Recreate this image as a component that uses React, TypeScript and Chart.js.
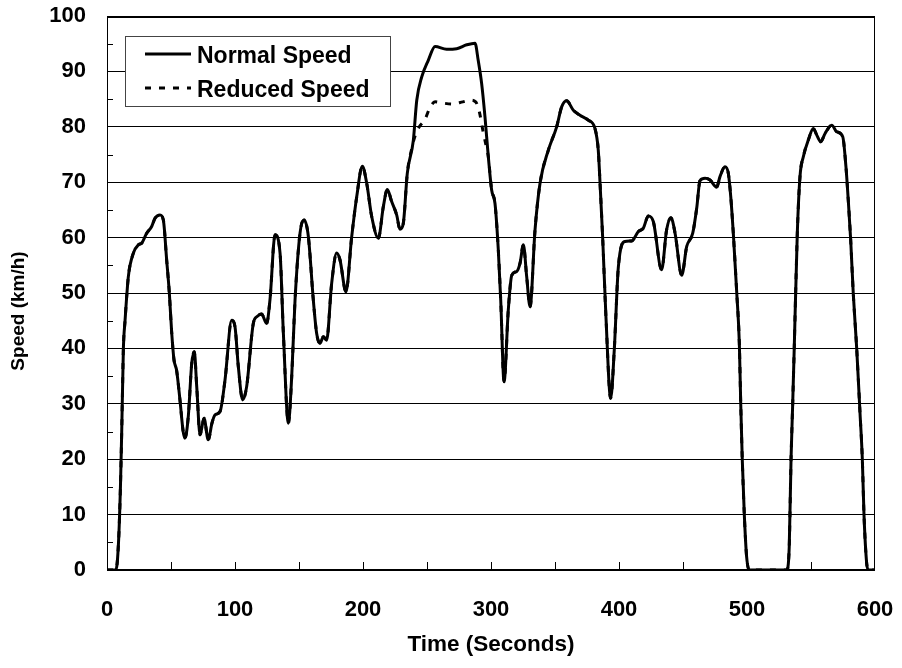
import React, { useEffect, useRef } from 'react';
import { Chart, registerables } from 'chart.js';

Chart.register(...registerables);

const FONT = '"Liberation Sans", Arial, sans-serif';

const seriesLabels = ['Normal Speed', 'Reduced Speed'];
const xTitle = 'Time (Seconds)';
const yTitle = 'Speed (km/h)';

const normalTime = [
  0, 7, 9, 10.5, 11.5, 12.8, 14.1, 16.7, 20.6, 24.5, 27.1, 31, 34.9, 37.5, 41.4, 44, 46.6, 48.7, 50.5, 52.3,
  54.4, 57, 59.5, 60.9, 63.5, 66.2, 68.2, 70.1, 72.7, 75.8, 79.1, 82, 84.4, 88.3, 92.2, 97.4, 100, 102.6, 106, 109.1,
  114.3, 117.5, 120.8, 124.7, 127.3, 131.3, 135.2, 137.8, 141.7, 144.3, 146.9, 150.8, 153.9, 157.3, 161.2, 163.8, 166.4, 169, 171.6, 175.5,
  179.4, 182, 186.7, 191.1, 195.1, 199.5, 202.9, 206.8, 212, 215.9, 219, 222.4, 226.3, 228.9, 231.5, 234.6, 239.3, 242, 245.9, 251,
  256.3, 265.3, 273.2, 281, 287.5, 290, 292.7, 295.3, 297.9, 300.5, 303.1, 305.7, 307.6, 310.2, 313.5, 316.2, 320.1, 322.7, 325.3, 327.9,
  330.5, 334.4, 338.3, 344.8, 351.3, 355.2, 359.1, 364.3, 369.5, 376, 381.2, 383.8, 385.2, 387.2, 389.8, 393.5, 396.3, 399.5, 404.7, 409.9,
  415.1, 419, 422.9, 426.8, 433.3, 437.2, 440.6, 443.8, 449, 452.9, 457.6, 460.7, 463.3, 467.2, 471.1, 476.3, 478.9, 482.8, 485.4, 487.3,
  489.3, 492, 494, 495.1, 496.3, 497.9, 499.7, 501.8, 531, 533, 534.4, 535.7, 536.9, 539.3, 541.4, 544, 547.9, 551.8, 554.5, 557.6,
  561, 566.2, 570.1, 574.8, 577.3, 579.1, 581, 583, 585.7, 588.3, 590.1, 591.4, 593.5, 594.8, 600,
];
const normalSpeed = [
  0, 0, 5, 15, 25, 40, 45, 53, 57.2, 58.7, 59, 60.8, 62, 63.5, 64.1, 63.2, 56, 50, 43, 38,
  36, 30.7, 25, 23.8, 27.7, 37.3, 39.4, 33.1, 24.4, 27.4, 23.5, 26.5, 28, 28.6, 34.3, 45.1, 43.9, 36.7, 30.7, 33.1,
  44.5, 45.8, 46.2, 44.5, 48.7, 60.5, 57.2, 42.7, 26.5, 34.9, 48.7, 60.8, 63.2, 60.2, 48.7, 42.7, 40.9, 42.1, 41.5, 51.7,
  57.2, 56, 50.2, 60, 67.4, 72.9, 69.8, 63.8, 59.9, 65.6, 68.7, 66.5, 64.1, 61.5, 62.6, 71.6, 77.5, 84.8, 89, 92,
  94.5, 94, 94.1, 94.8, 95.1, 92, 87.8, 81.8, 74.6, 68.6, 66.2, 57.8, 48.7, 34, 46.9, 53.2, 53.9, 55.4, 58.7, 52.9,
  47.5, 61.4, 69.8, 75.8, 80, 83.6, 84.7, 83, 82.1, 81.2, 79.7, 75.8, 69.8, 60.2, 45.7, 31, 39.7, 54.7, 59.3, 59.4,
  61.1, 61.7, 63.9, 62.9, 54.2, 61.4, 63.6, 60.8, 53.2, 58.4, 60.8, 65.3, 70.3, 70.7, 70.4, 69.1, 71, 72.8, 71.6, 67.4,
  60.8, 50, 41, 30, 20, 10, 2.4, 0, 0, 4.2, 20, 30, 40, 60.8, 71, 74.6, 77.6, 79.7, 78.5, 77.3,
  78.8, 80.3, 79.1, 78.2, 72.8, 66.8, 59.6, 50, 40, 28.3, 20, 10, 1.2, 0, 0,
];

// Reduced speed follows the normal profile except on the capped section
const reducedCapStart = 236;
const reducedCapEnd = 297.5;
const reducedCapTime = [238, 240.6, 244, 248.4, 252, 256.3, 262, 270, 278, 284.1, 288, 290.9, 293.5, 296.6];
const reducedCapSpeed = [76, 78.3, 80, 81.3, 83.3, 84.5, 84.3, 84.1, 84.5, 84.8, 84.5, 82.7, 79.5, 76.1];

const xMinorTicks = [50, 100, 150, 200, 250, 300, 350, 400, 450, 500, 550];
const yMinorTicks = [5, 15, 25, 35, 45, 55, 65, 75, 85, 95];

const framePlugin = {
  id: 'frameAndLegend',
  afterDatasetsDraw(chart: any) {
    const { ctx, chartArea, scales } = chart;
    const { left, top, right, bottom } = chartArea;
    const xs = scales.x;
    const ys = scales.y;
    ctx.save();
    ctx.strokeStyle = '#000';
    ctx.lineWidth = 1;
    ctx.setLineDash([]);
    for (const v of yMinorTicks) {
      const py = Math.round(ys.getPixelForValue(v)) + 0.5;
      ctx.beginPath();
      ctx.moveTo(left, py);
      ctx.lineTo(left + 6, py);
      ctx.stroke();
    }
    for (const v of xMinorTicks) {
      const px = Math.round(xs.getPixelForValue(v)) + 0.5;
      ctx.beginPath();
      ctx.moveTo(px, bottom);
      ctx.lineTo(px, bottom - 8);
      ctx.stroke();
    }
    ctx.beginPath();
    ctx.moveTo(Math.round(left) + 0.5, top);
    ctx.lineTo(Math.round(left) + 0.5, bottom);
    ctx.stroke();
    ctx.beginPath();
    ctx.moveTo(Math.round(right) - 0.5, top);
    ctx.lineTo(Math.round(right) - 0.5, bottom);
    ctx.stroke();
    ctx.lineWidth = 2;
    ctx.beginPath();
    ctx.moveTo(left, Math.round(top) + 1);
    ctx.lineTo(right, Math.round(top) + 1);
    ctx.stroke();
    ctx.beginPath();
    ctx.moveTo(left, Math.round(bottom));
    ctx.lineTo(right, Math.round(bottom));
    ctx.stroke();

    // legend
    const lx = Math.round(left) + 18;
    const ly = Math.round(top) + 20;
    const lw = 265;
    const lh = 70;
    ctx.fillStyle = '#fff';
    ctx.fillRect(lx, ly, lw, lh);
    ctx.strokeStyle = '#444';
    ctx.lineWidth = 1;
    ctx.strokeRect(lx + 0.5, ly + 0.5, lw, lh);
    chart.data.datasets.forEach((ds: any, i: number) => {
      const cy = ly + 18 + i * 34;
      ctx.strokeStyle = ds.borderColor;
      ctx.lineWidth = ds.borderWidth;
      ctx.setLineDash(ds.borderDash || []);
      ctx.beginPath();
      ctx.moveTo(lx + 20, cy);
      ctx.lineTo(lx + 66, cy);
      ctx.stroke();
      ctx.setLineDash([]);
      ctx.fillStyle = '#000';
      ctx.font = `bold 23px ${FONT}`;
      ctx.textBaseline = 'alphabetic';
      ctx.textAlign = 'left';
      ctx.fillText(ds.label, lx + 72, cy + 9);
    });

    // y-axis title
    ctx.translate(19, Math.round((top + bottom) / 2) + 18);
    ctx.rotate(-Math.PI / 2);
    ctx.font = `bold 19px ${FONT}`;
    ctx.fillStyle = '#000';
    ctx.textAlign = 'center';
    ctx.textBaseline = 'middle';
    ctx.fillText(yTitle, 0, 0);
    ctx.restore();
  },
};

export default function App() {
  const canvasRef = useRef<HTMLCanvasElement | null>(null);

  useEffect(() => {
    const canvas = canvasRef.current;
    if (!canvas) return;

    const normalPoints = normalTime.map((t, i) => ({ x: t, y: normalSpeed[i] }));
    const reducedPoints = normalPoints
      .filter((p) => p.x <= reducedCapStart || p.x >= reducedCapEnd)
      .concat(reducedCapTime.map((t, i) => ({ x: t, y: reducedCapSpeed[i] })))
      .sort((a, b) => a.x - b.x);

    const tickFont = { family: FONT, size: 22, weight: 'bold' as const };

    const chart = new Chart(canvas, {
      type: 'line',
      data: {
        datasets: [
          {
            label: seriesLabels[0],
            data: normalPoints,
            borderColor: '#000',
            borderWidth: 3,
            pointRadius: 0,
            cubicInterpolationMode: 'monotone',
            fill: false,
          },
          {
            label: seriesLabels[1],
            data: reducedPoints,
            borderColor: '#000',
            borderWidth: 3,
            borderDash: [6, 8],
            pointRadius: 0,
            cubicInterpolationMode: 'monotone',
            fill: false,
          },
        ],
      },
      options: {
        responsive: false,
        animation: false,
        parsing: false,
        normalized: true,
        layout: { padding: { top: 16, right: 27, left: 0, bottom: 0 } },
        plugins: {
          legend: { display: false },
          tooltip: { enabled: false },
        },
        scales: {
          x: {
            type: 'linear',
            min: 0,
            max: 600,
            ticks: { stepSize: 100, color: '#000', font: tickFont, padding: 0, maxRotation: 0 },
            grid: {
              display: true,
              drawOnChartArea: false,
              drawTicks: true,
              tickLength: 27,
              tickColor: 'rgba(0,0,0,0)',
            },
            border: { display: false },
            title: {
              display: true,
              text: xTitle,
              color: '#000',
              font: { family: FONT, size: 22.5, weight: 'bold' },
              padding: { top: 0, bottom: 10 },
            },
            afterFit: (s: any) => {
              s.height = 98;
            },
          },
          y: {
            type: 'linear',
            min: 0,
            max: 100,
            ticks: { stepSize: 10, color: '#000', font: tickFont, padding: 0 },
            grid: {
              color: '#000',
              lineWidth: 1,
              drawTicks: true,
              tickLength: 21,
              tickColor: 'rgba(0,0,0,0)',
            },
            border: { display: false },
            title: { display: false },
            afterFit: (s: any) => {
              s.width = 107;
            },
          },
        },
      },
      plugins: [framePlugin],
    });

    return () => chart.destroy();
  }, []);

  return (
    <canvas
      ref={canvasRef}
      width={902}
      height={668}
      style={{ position: 'fixed', left: 0, top: 0, width: 902, height: 668, display: 'block' }}
    />
  );
}
